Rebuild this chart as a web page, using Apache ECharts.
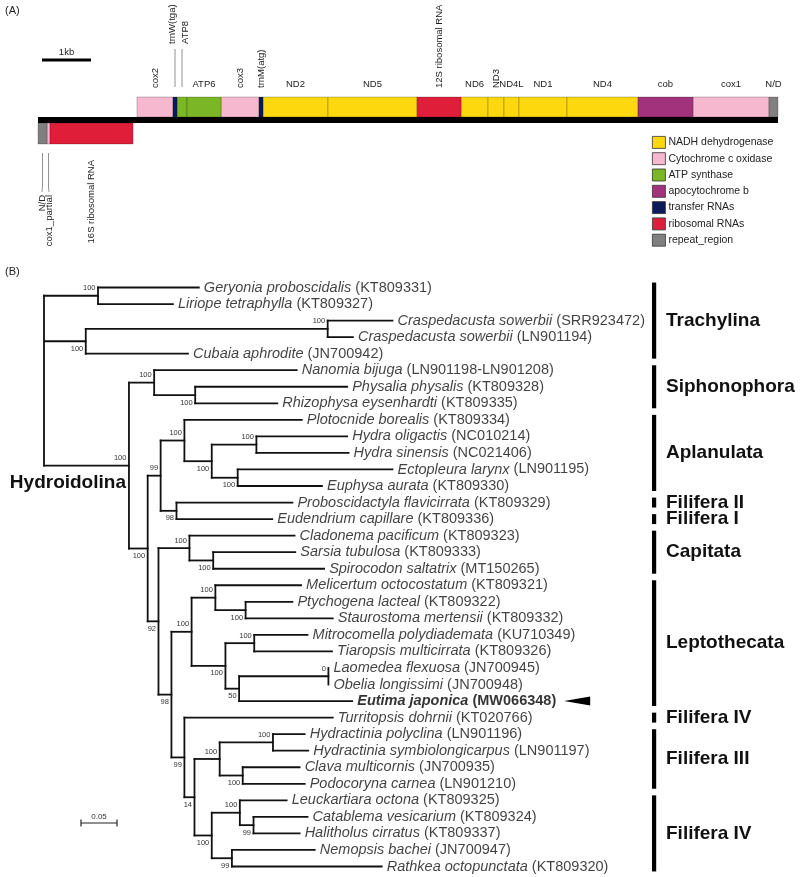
<!DOCTYPE html>
<html><head><meta charset="utf-8">
<script src="https://cdn.jsdelivr.net/npm/echarts@6/dist/echarts.min.js"></script>
<style>html,body{margin:0;padding:0;background:#fff}#c{width:800px;height:877px}</style>
</head><body><div id="c"></div>
<script>
const FONT = '"Liberation Sans", Arial, Helvetica, sans-serif';

// ================= Panel A : mitochondrial genome map =================
const GENOME_LENGTH = 15102;           // bp
const SCALE_KB = 1000;                 // scale bar length (bp)
const CATEGORIES = ['NADH dehydrogenase','Cytochrome c oxidase','ATP synthase','apocytochrome b','transfer RNAs','ribosomal RNAs','repeat_region'];
const CATEGORY_COLORS = ['#FDD80F','#F5B8CE','#7BB627','#A2327C','#0B1A5A','#DF1F3A','#808080'];
const GENE_NAMES  = ['N/D','cox1_partial','16S ribosomal RNA','cox2','trnW(tga)','ATP8','ATP6','cox3','trnM(atg)','ND2','ND5','12S ribosomal RNA','ND6','ND3','ND4L','ND1','ND4','cob','cox1','N/D'];
const GENE_START  = [0,   184, 245, 2020,2755,2837,3041,3735,4510,4592,5918,7735,8633,9184,9510,9816, 10796,12245,13367,14918];
const GENE_END    = [184, 245,1939, 2755,2837,3041,3735,4510,4592,5918,7735,8633,9184,9510,9816,10796,12245,13367,14918,15102];
const GENE_STRAND = [-1,-1,-1, 1,1,1,1,1,1,1,1,1,1,1,1,1,1,1,1,1];
const GENE_CATEGORY = [6,1,5, 1,4,2,2,1,4,0,0,5,0,0,0,0,0,3,1,6];

// ================= Panel B : phylogenetic tree =================
// internal nodes: id, parent, branch length, bootstrap
const NODES = [
  ['root', null, 0, null],
  ['A','root',0.075,100], ['B','root',0.058,100], ['C','B',0.336,100], ['H','root',0.118,100],
  ['S','H',0.035,100], ['P','S',0.057,100], ['N1','H',0.026,100], ['N2','N1',0.018,99],
  ['Apl','N2',0.033,100], ['N3','Apl',0.038,100], ['Hy','N3',0.062,100], ['EE','N3',0.036,100],
  ['PE','N2',0.022,98], ['N4','N1',0.015,92], ['Cap','N4',0.043,100], ['SS','Cap',0.033,100],
  ['N5','N4',0.018,98], ['Lep','N5',0.028,100], ['M','Lep',0.033,100], ['PS','M',0.042,100],
  ['N6','Lep',0.047,100], ['MT','N6',0.040,100], ['N7','N6',0.019,50], ['LO','N7',0.124,0],
  ['N8','N5',0.018,99], ['N9','N8',0.014,14], ['F3','N9',0.035,100], ['Hd','F3',0.074,100],
  ['CP','F3',0.032,100], ['F4','N9',0.024,100], ['LCH','F4',0.039,100], ['CH','LCH',0.019,99],
  ['NR','F4',0.028,99]
];
// leaves in display order: species, accession, parent, branch length
const LEAVES = [
  ['Geryonia proboscidalis','KT809331','A',0.140],
  ['Liriope tetraphylla','KT809327','A',0.104],
  ['Craspedacusta sowerbii','SRR923472','C',0.090],
  ['Craspedacusta sowerbii','LN901194','C',0.035],
  ['Cubaia aphrodite','JN700942','B',0.142],
  ['Nanomia bijuga','LN901198-LN901208','S',0.198],
  ['Physalia physalis','KT809328','P',0.211],
  ['Rhizophysa eysenhardti','KT809335','P',0.114],
  ['Plotocnide borealis','KT809334','Apl',0.163],
  ['Hydra oligactis','NC010214','Hy',0.126],
  ['Hydra sinensis','NC021406','Hy',0.128],
  ['Ectopleura larynx','LN901195','EE',0.215],
  ['Euphysa aurata','KT809330','EE',0.117],
  ['Proboscidactyla flavicirrata','KT809329','PE',0.161],
  ['Eudendrium capillare','KT809336','PE',0.133],
  ['Cladonema pacificum','KT809323','Cap',0.146],
  ['Sarsia tubulosa','KT809333','SS',0.114],
  ['Spirocodon saltatrix','MT150265','SS',0.154],
  ['Melicertum octocostatum','KT809321','M',0.119],
  ['Ptychogena lacteal','KT809322','PS',0.065],
  ['Staurostoma mertensii','KT809332','PS',0.121],
  ['Mitrocomella polydiademata','KU710349','MT',0.074],
  ['Tiaropsis multicirrata','KT809326','MT',0.108],
  ['Laomedea flexuosa','JN700945','LO',0],
  ['Obelia longissimi','JN700948','LO',0],
  ['Eutima japonica','MW066348','N7',0.157],
  ['Turritopsis dohrnii','KT020766','N8',0.206],
  ['Hydractinia polyclina','LN901196','Hd',0.044],
  ['Hydractinia symbiolongicarpus','LN901197','Hd',0.049],
  ['Clava multicornis','JN700935','CP',0.079],
  ['Podocoryna carnea','LN901210','CP',0.086],
  ['Leuckartiara octona','KT809325','LCH',0.065],
  ['Catablema vesicarium','KT809324','CH',0.075],
  ['Halitholus cirratus','KT809337','CH',0.064],
  ['Nemopsis bachei','JN700947','NR',0.115],
  ['Rathkea octopunctata','KT809320','NR',0.208]
];
const HIGHLIGHT_LEAF = 'Eutima japonica';
const CLADE_NAMES = ['Trachylina','Siphonophora','Aplanulata','Filifera II','Filifera I','Capitata','Leptothecata','Filifera IV','Filifera III','Filifera IV'];
const CLADE_FIRST = [0,5,8,13,14,15,18,26,27,31];
const CLADE_LAST  = [4,7,12,13,14,17,25,26,30,35];
const GROUP_LABEL = 'Hydroidolina';
const GROUP_NODE = 'H';
const TREE_SCALE = 0.05;

// ---------- layout constants (pixels / styles) ----------
const CLADE_BAR_X = 654, CLADE_LABEL_X = 666;
const SCALE_BAR_START_BP = 82;
const TREE_SCALE_POS = [0.0514, 32.37];
const BOOTSTRAP_ABOVE_EXTRA = ['H'];
const LEADER_KEYS = ['trnW(tga)','ATP8','N/D-','cox1_partial-'];
const VERTICAL_TOP = ['cox2','cox3','trnM(atg)','12S ribosomal RNA','ND3'];

// ---------- build the tree ----------
function buildTree() {
  const nodes = {};
  NODES.forEach(([id, parent, bl, bs]) => nodes[id] = {id, parent, bl, bs, children: [], leaf: false});
  LEAVES.forEach(([name, acc, parent, bl], i) => nodes['L' + i] = {id: 'L' + i, parent, bl, leaf: true, idx: i, name, acc, children: []});
  Object.values(nodes).forEach(n => { if (n.parent) nodes[n.parent].children.push(n); });
  function walk(n, px) {
    n.x = px + n.bl;
    if (n.leaf) { n.y = n.idx; n.minIdx = n.idx; return; }
    n.children.forEach(c => walk(c, n.x));
    n.children.sort((a, b) => a.minIdx - b.minIdx);
    n.minIdx = n.children[0].minIdx;
    n.y = (n.children[0].y + n.children[n.children.length - 1].y) / 2;
  }
  walk(nodes.root, 0);
  return nodes;
}
const T = buildTree();
const segs = [], boots = [];
Object.values(T).forEach(n => {
  if (n.parent) segs.push([T[n.parent].x, n.y, n.x, n.y]);
  if (!n.leaf) {
    const f = n.children[0], l = n.children[n.children.length - 1];
    segs.push([n.x, f.y, n.x, l.y]);
    if (n.bs !== null && n.parent) {
      const isFirst = T[n.parent].children[0] === n;
      boots.push([n.x, n.y, n.bs, (isFirst || BOOTSTRAP_ABOVE_EXTRA.includes(n.id)) ? 1 : 0]);
    }
  }
});
const tips = LEAVES.map((l, i) => T['L' + i]);

const measureCtx = document.createElement('canvas').getContext('2d');
function textW(t, font) { measureCtx.font = font; return measureCtx.measureText(t).width; }

// ---------- series ----------
const series = [];
CATEGORIES.forEach((cat, k) => {
  const data = [];
  GENE_NAMES.forEach((g, i) => { if (GENE_CATEGORY[i] === k) data.push([GENE_START[i], GENE_STRAND[i], GENE_END[i], i]); });
  series.push({
    type: 'custom', name: cat, xAxisIndex: 0, yAxisIndex: 0, data,
    encode: {x: 0, y: 1},
    itemStyle: {color: CATEGORY_COLORS[k]},
    renderItem: (params, api) => {
      const a = api.coord([api.value(0), 0]), b = api.coord([api.value(2), 0]);
      const up = api.value(1) > 0;
      return {type: 'rect', shape: {x: a[0], y: up ? a[1] - 23 : a[1] + 3, width: b[0] - a[0], height: up ? 20 : 21},
        style: {fill: CATEGORY_COLORS[k], stroke: 'rgba(0,0,0,0.28)', lineWidth: 0.8}};
    }
  });
});
// backbone + 1 kb scale bar
series.push({
  type: 'custom', name: 'backbone', xAxisIndex: 0, yAxisIndex: 0, data: [[0, 0, GENOME_LENGTH]],
  renderItem: (params, api) => {
    const a = api.coord([0, 0]), b = api.coord([api.value(2), 0]);
    const s0 = api.coord([SCALE_BAR_START_BP, 0]), s1 = api.coord([SCALE_BAR_START_BP + SCALE_KB, 0]);
    return {type: 'group', children: [
      {type: 'rect', shape: {x: a[0], y: a[1] - 3, width: b[0] - a[0], height: 6}, style: {fill: '#000'}},
      {type: 'line', shape: {x1: s0[0], y1: a[1] - 60, x2: s1[0], y2: a[1] - 60}, style: {stroke: '#000', lineWidth: 3}},
      {type: 'text', x: (s0[0] + s1[0]) / 2, y: a[1] - 68, style: {text: (SCALE_KB / 1000) + 'kb', font: `9.5px ${FONT}`, fill: '#222', align: 'center', verticalAlign: 'middle'}}
    ]};
  }
});
// gene labels
function geneKey(i) { return GENE_NAMES[i] + (GENE_STRAND[i] < 0 ? '-' : ''); }
function isLeader(i) { return LEADER_KEYS.includes(geneKey(i)); }
series.push({
  type: 'custom', name: 'geneLabels', xAxisIndex: 0, yAxisIndex: 0,
  data: GENE_NAMES.map((g, i) => [GENE_START[i], GENE_STRAND[i], GENE_END[i], i]),
  encode: {x: 0, y: 1},
  renderItem: (params, api) => {
    const i = api.value(3), strand = GENE_STRAND[i], name = GENE_NAMES[i];
    const cen = j => { const p = api.coord([GENE_START[j], 0]), q = api.coord([GENE_END[j], 0]); return (p[0] + q[0]) / 2; };
    const cx = cen(i), y0 = api.coord([GENE_START[i], 0])[1];
    const font = `9.5px ${FONT}`;
    const ch = [];
    if (isLeader(i)) {
      let g0 = i, g1 = i;
      while (g0 - 1 >= 0 && isLeader(g0 - 1) && GENE_STRAND[g0 - 1] === strand) g0--;
      while (g1 + 1 < GENE_NAMES.length && isLeader(g1 + 1) && GENE_STRAND[g1 + 1] === strand) g1++;
      let mean = 0; for (let j = g0; j <= g1; j++) mean += cen(j); mean /= (g1 - g0 + 1);
      const sp = strand > 0 ? 13 : 7;
      const tx = mean + (i - g0 - (g1 - g0) / 2) * sp;
      if (strand > 0) {
        ch.push({type: 'line', shape: {x1: cx, y1: y0 - 33, x2: cx, y2: y0 - 71}, style: {stroke: '#777', lineWidth: 0.8}});
        ch.push({type: 'text', x: tx, y: y0 - 76, rotation: Math.PI / 2, style: {text: name, font, fill: '#222', align: 'left', verticalAlign: 'middle'}});
      } else {
        ch.push({type: 'polyline', shape: {points: [[cx, y0 + 33], [cx, y0 + 67], [tx, y0 + 72]]}, style: {stroke: '#777', lineWidth: 0.8, fill: null}});
        ch.push({type: 'text', x: tx, y: y0 + 75, rotation: Math.PI / 2, style: {text: name, font, fill: '#222', align: 'right', verticalAlign: 'middle'}});
      }
    } else if (strand < 0) {
      ch.push({type: 'text', x: cx, y: y0 + 40, rotation: Math.PI / 2, style: {text: name, font, fill: '#222', align: 'right', verticalAlign: 'middle'}});
    } else if (VERTICAL_TOP.includes(name)) {
      ch.push({type: 'text', x: cx, y: y0 - 32, rotation: Math.PI / 2, style: {text: name, font, fill: '#222', align: 'left', verticalAlign: 'middle'}});
    } else {
      ch.push({type: 'text', x: cx, y: y0 - 36, style: {text: name, font, fill: '#222', align: 'center', verticalAlign: 'middle'}});
    }
    return {type: 'group', children: ch};
  }
});

// tree branches
series.push({
  type: 'custom', name: 'branches', xAxisIndex: 1, yAxisIndex: 1, data: segs,
  renderItem: (params, api) => {
    const p1 = api.coord([api.value(0), api.value(1)]), p2 = api.coord([api.value(2), api.value(3)]);
    return {type: 'line', shape: {x1: p1[0], y1: p1[1], x2: p2[0], y2: p2[1]}, style: {stroke: '#111', lineWidth: 1.8, lineCap: 'square'}};
  }
});
// bootstrap values
series.push({
  type: 'custom', name: 'bootstrap', xAxisIndex: 1, yAxisIndex: 1, data: boots,
  renderItem: (params, api) => {
    const p = api.coord([api.value(0), api.value(1)]);
    const up = api.value(3) === 1;
    return {type: 'text', x: p[0] - 2.5, y: p[1] + (up ? -7.5 : 7.5),
      style: {text: String(api.value(2)), font: `7.5px ${FONT}`, fill: '#333', align: 'right', verticalAlign: 'middle'}};
  }
});
// leaf labels
const LEAF_FONT = 14.5;
series.push({
  type: 'scatter', name: 'tips', xAxisIndex: 1, yAxisIndex: 1, symbolSize: 0.1,
  itemStyle: {color: 'rgba(0,0,0,0)'}, silent: true,
  data: tips.map(t => ({value: [t.x, t.idx], name: t.name, acc: t.acc})),
  label: {
    show: true, position: 'right', distance: 5, color: '#111', fontSize: LEAF_FONT, fontFamily: FONT,
    formatter: p => p.data.name === HIGHLIGHT_LEAF ? `{bi|${p.data.name}}{b| (${p.data.acc})}` : `{i|${p.data.name}}{n| (${p.data.acc})}`,
    rich: {
      i: {fontStyle: 'italic', fontSize: LEAF_FONT, fontFamily: FONT, color: '#111'},
      n: {fontSize: LEAF_FONT, fontFamily: FONT, color: '#111'},
      bi: {fontStyle: 'italic', fontWeight: 'bold', fontSize: LEAF_FONT, fontFamily: FONT, color: '#000'},
      b: {fontWeight: 'bold', fontSize: LEAF_FONT, fontFamily: FONT, color: '#000'}
    }
  }
});
// clade bars + names
series.push({
  type: 'custom', name: 'clades', xAxisIndex: 1, yAxisIndex: 1,
  data: CLADE_NAMES.map((c, k) => [0, CLADE_FIRST[k], CLADE_LAST[k], k]),
  encode: {x: 0, y: 1},
  renderItem: (params, api) => {
    const k = api.value(3);
    const y1 = api.coord([0, CLADE_FIRST[k] - 0.3])[1], y2 = api.coord([0, CLADE_LAST[k] + 0.3])[1];
    const ym = api.coord([0, (CLADE_FIRST[k] + CLADE_LAST[k]) / 2])[1];
    return {type: 'group', children: [
      {type: 'rect', shape: {x: CLADE_BAR_X - 2, y: y1, width: 4.2, height: y2 - y1}, style: {fill: '#000'}},
      {type: 'text', x: CLADE_LABEL_X, y: ym, style: {text: CLADE_NAMES[k], font: `bold 19px ${FONT}`, fill: '#111', align: 'left', verticalAlign: 'middle'}}
    ]};
  }
});
// annotations: group name, arrow, scale bar
const hl = tips.find(t => t.name === HIGHLIGHT_LEAF);
series.push({
  type: 'custom', name: 'annot', xAxisIndex: 1, yAxisIndex: 1,
  data: [[T[GROUP_NODE].x, T[GROUP_NODE].y, hl.x, hl.idx]],
  renderItem: (params, api) => {
    const g = api.coord([api.value(0), api.value(1)]);
    const h = api.coord([api.value(2), api.value(3)]);
    const w = textW(hl.name, `italic bold ${LEAF_FONT}px ${FONT}`) + textW(` (${hl.acc})`, `bold ${LEAF_FONT}px ${FONT}`);
    const ax = h[0] + 5 + w + 8;
    const s0 = api.coord([TREE_SCALE_POS[0], TREE_SCALE_POS[1]]), s1 = api.coord([TREE_SCALE_POS[0] + TREE_SCALE, TREE_SCALE_POS[1]]);
    return {type: 'group', children: [
      {type: 'text', x: g[0] - 3, y: g[1] + 17, style: {text: GROUP_LABEL, font: `bold 19px ${FONT}`, fill: '#111', align: 'right', verticalAlign: 'middle'}},
      {type: 'polygon', shape: {points: [[ax, h[1]], [ax + 26, h[1] - 4.5], [ax + 26, h[1] + 4.5]]}, style: {fill: '#000'}},
      {type: 'line', shape: {x1: s0[0], y1: s0[1], x2: s1[0], y2: s1[1]}, style: {stroke: '#222', lineWidth: 1.2}},
      {type: 'line', shape: {x1: s0[0], y1: s0[1] - 3.5, x2: s0[0], y2: s0[1] + 3.5}, style: {stroke: '#222', lineWidth: 1.2}},
      {type: 'line', shape: {x1: s1[0], y1: s1[1] - 3.5, x2: s1[0], y2: s1[1] + 3.5}, style: {stroke: '#222', lineWidth: 1.2}},
      {type: 'text', x: (s0[0] + s1[0]) / 2, y: s0[1] - 6, style: {text: String(TREE_SCALE), font: `8px ${FONT}`, fill: '#333', align: 'center', verticalAlign: 'middle'}}
    ]};
  }
});

const chart = echarts.init(document.getElementById('c'), null, {renderer: 'canvas'});
chart.setOption({
  animation: false,
  backgroundColor: '#fff',
  grid: [
    {left: 38, top: 100, width: 740, height: 40},
    {left: 44, top: 287.5, width: 720, height: 579}
  ],
  xAxis: [
    {type: 'value', gridIndex: 0, min: 0, max: GENOME_LENGTH, show: false},
    {type: 'value', gridIndex: 1, min: 0, max: 1, show: false}
  ],
  yAxis: [
    {type: 'value', gridIndex: 0, min: -1, max: 1, show: false},
    {type: 'value', gridIndex: 1, min: 0, max: LEAVES.length - 1, inverse: true, show: false}
  ],
  legend: {
    data: CATEGORIES, left: 652, top: 136, orient: 'vertical', padding: 0,
    itemWidth: 13, itemHeight: 12, itemGap: 3.5, icon: 'rect', selectedMode: false,
    itemStyle: {borderColor: '#333', borderWidth: 0.8},
    textStyle: {fontSize: 10.5, color: '#222', fontFamily: FONT, padding: [0, 0, 0, -2]}
  },
  graphic: [
    {type: 'text', left: 5, top: 5, style: {text: '(A)', font: `11px ${FONT}`, fill: '#222'}},
    {type: 'text', left: 5, top: 266, style: {text: '(B)', font: `11px ${FONT}`, fill: '#222'}}
  ],
  series
});
</script></body></html>
